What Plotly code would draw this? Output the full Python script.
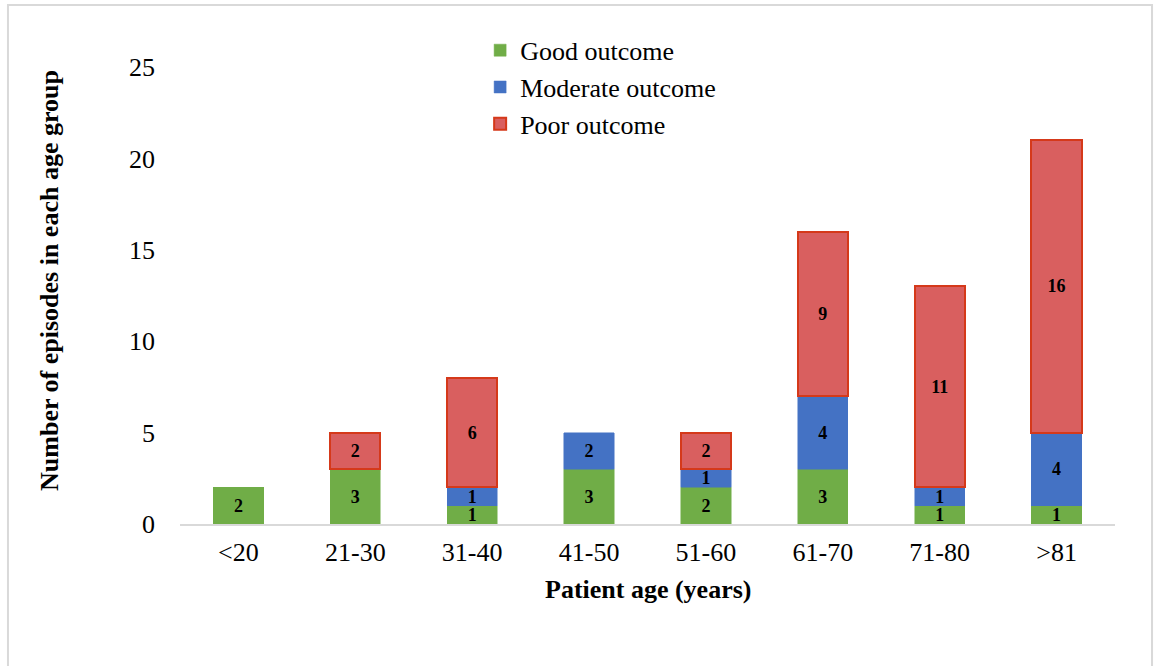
import plotly.graph_objects as go

categories = ["<20", "21-30", "31-40", "41-50", "51-60", "61-70", "71-80", ">81"]
good = [2, 3, 1, 3, 2, 3, 1, 1]
moderate = [0, 0, 1, 2, 1, 4, 1, 4]
poor = [0, 2, 6, 0, 2, 9, 11, 16]
y_ticks = [0, 5, 10, 15, 20, 25]

FONT = "Liberation Serif, Times New Roman, serif"

def labels(vals):
    return [str(v) if v else "" for v in vals]

fig = go.Figure()
series = [
    ("Good outcome", good, "#70AD47", "#70AD47", 0.5),
    ("Moderate outcome", moderate, "#4472C4", "#4472C4", 0.5),
    ("Poor outcome", poor, "#D95F5F", "#D5391A", 2),
]
for i, (name, vals, fill, line, lw) in enumerate(series):
    fig.add_trace(go.Bar(
        x=categories, y=[v if v else None for v in vals], name=name,
        marker=dict(color=fill, line=dict(color=line, width=lw)),
        text=labels(vals), textposition="inside", insidetextanchor="middle",
        textangle=0, constraintext="none",
        textfont=dict(family=FONT, size=18, color="black", weight="bold"),
        legendgroup=f"g{i}",
        hoverinfo="x+y+name",
    ))

fig.update_layout(
    barmode="stack",
    bargap=0.57,
    width=1154, height=666,
    margin=dict(l=180, r=39, t=67, b=142),
    paper_bgcolor="white", plot_bgcolor="white",
    font=dict(family=FONT, size=26, color="black"),
    uniformtext=dict(minsize=18, mode="show"),
    showlegend=True,
    legend=dict(
        x=0.321, y=1.088, xanchor="left", yanchor="top",
        font=dict(family=FONT, size=26, color="black"),
        bgcolor="rgba(0,0,0,0)", tracegroupgap=2,
        itemwidth=30,
        traceorder="normal",
    ),
    xaxis=dict(
        showline=True, linecolor="#D9D9D9", linewidth=2,
        showgrid=False, ticks="", ticklabelstandoff=4,
        tickfont=dict(family=FONT, size=26),
    ),
    yaxis=dict(
        range=[0, 25], tickvals=y_ticks,
        showgrid=False, zeroline=False, showline=False, ticks="",
        ticklabelstandoff=24,
        tickfont=dict(family=FONT, size=26),
    ),
    annotations=[
        dict(text="<b>Number of episodes in each age group</b>", textangle=-90,
             xref="paper", yref="paper", x=-0.139, y=0.532,
             xanchor="center", yanchor="middle",
             showarrow=False, font=dict(family=FONT, size=26)),
        dict(text="<b>Patient age (years)</b>",
             xref="paper", yref="paper", x=0.5, y=-0.144,
             xanchor="center", yanchor="middle",
             showarrow=False, font=dict(family=FONT, size=26)),
    ],
    shapes=[
        dict(type="rect", xref="paper", yref="paper",
             x0=-0.184, x1=1.0396, y0=-0.35, y1=1.1357,
             line=dict(color="#D9D9D9", width=2), fillcolor="rgba(0,0,0,0)",
             layer="below"),
    ],
)

fig.write_html("out.html", config={"displayModeBar": False})

# remove default page margin so the figure sits at the window origin
with open("out.html", "r", encoding="utf-8") as f:
    html = f.read()
html = html.replace("<body>", '<body style="margin:0;padding:0;">', 1)
with open("out.html", "w", encoding="utf-8") as f:
    f.write(html)
